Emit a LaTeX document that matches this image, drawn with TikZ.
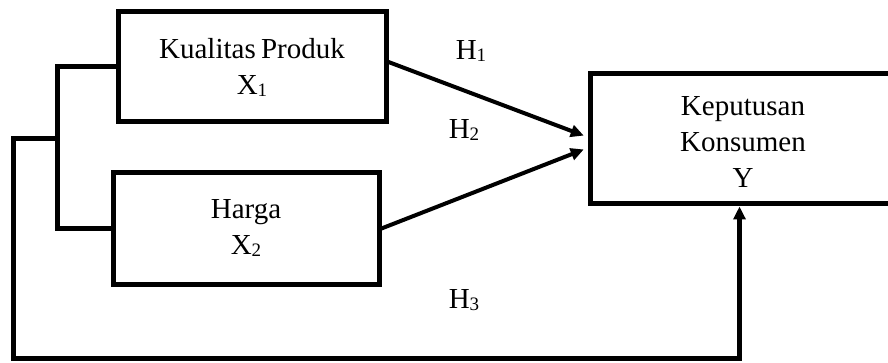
\documentclass[tikz,border=0pt]{standalone}
\usepackage{fontspec}
\setmainfont{Liberation Serif}
\usetikzlibrary{arrows.meta}
\newcommand{\sbs}[1]{\raisebox{-2pt}{\fontsize{19}{19}\selectfont #1}}
\begin{document}
\begin{tikzpicture}[x=1pt,y=-1pt,
  box/.style={draw=black,line width=5pt,minimum width=#1,inner sep=0pt,align=center},
  txt/.style={font=\fontsize{29}{36}\selectfont,align=center,inner sep=0pt},
  link/.style={line width=5pt,line join=miter},
  hyp/.style={line width=4pt,-{Triangle[length=13pt,width=12pt]},shorten >=4pt}]
  \clip (0,0) rectangle (888,363);
  % variable boxes
  \node[box=268pt,minimum height=110pt,txt] (kp) at (252,67) {Kualitas\hspace{-2pt} Produk\\X\sbs{1}};
  \node[box=266pt,minimum height=111pt,txt] (hg) at (246,228.5) {Harga\\X\sbs{2}};
  \node[box=350pt,minimum height=130pt] (kk) at (765,139) {};
  \node[txt] (kktext) at (743,142) {Keputusan\\Konsumen\\Y};
  % hypothesis labels
  \node[txt] (h1) at (471,51) {H\sbs{1}};
  \node[txt] (h2) at (464,130) {H\sbs{2}};
  \node[txt] (h3) at (464,300) {H\sbs{3}};
  % bracket joining the two independent variables
  \coordinate (jn) at (57,139);
  \draw[link] (kp.west) -| (jn) |- (hg.west);
  % joint path to Y
  \draw[link,-{Triangle[length=13pt,width=12pt]}] (jn) -- (13,139) -- (13,358)
     -| ([xshift=152pt]kk.south west);
  % direct paths
  \draw[hyp] ([yshift=5pt]kp.east) -- ([yshift=2pt]kk.west);
  \draw[hyp] (hg.east) -- ([yshift=-9pt]kk.west);
\end{tikzpicture}
\end{document}
